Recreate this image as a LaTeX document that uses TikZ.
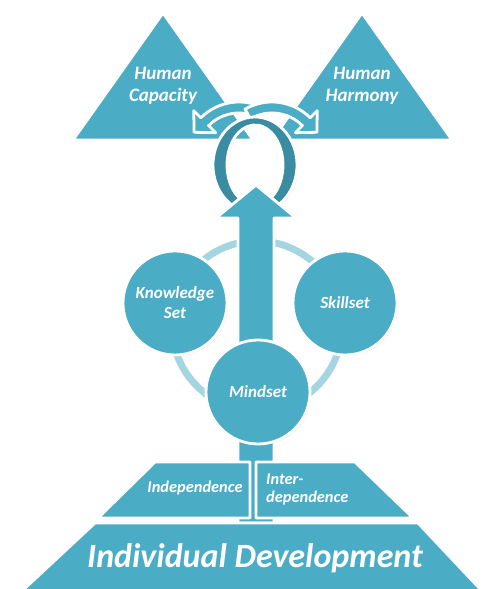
\documentclass[tikz,border=0pt]{standalone}
\usepackage{fontspec}
\setmainfont{Carlito}
\usetikzlibrary{shadows,calc}
\definecolor{aqua}{HTML}{4BACC6}
\definecolor{aquadark}{HTML}{3A8CA3}
\definecolor{aqualight}{HTML}{A5D5E1}
\begin{document}
\begin{tikzpicture}[x=1pt,y=1pt,
  blok/.style={fill=aqua,draw=white,line width=2.8pt,line join=round,
    drop shadow={shadow xshift=1.2pt,shadow yshift=-1.2pt,opacity=.3}},
  lbl/.style={text=white,align=center,inner sep=0pt},
  disc/.style={blok,circle,minimum size=104pt,inner sep=0pt,text=white,align=center}]
\useasboundingbox (0,0) rectangle (485,589);
% triangles
\path[blok] (73,449) -- (163,576) -- (253,449) -- cycle;
\path[blok] (272,449) -- (362,576) -- (452,449) -- cycle;
\node[lbl,font=\fontsize{19}{22}\selectfont\bfseries\itshape] (cap) at (163,503) {Human\\Capacity};
\node[lbl,font=\fontsize{19}{22}\selectfont\bfseries\itshape] (harm) at (362,503) {Human\\Harmony};
% curved arrows
\coordinate (cl) at (239,433);
\coordinate (cr) at (272,433);
\path[blok] ($(cl)+(60:43)$) -- ($(cl)+(60:54)$) arc[start angle=60,end angle=135,radius=54]
  -- ($(cl)+(135:64)$) -- ($(cl)+(135:48.5)+(225:15)$) -- ($(cl)+(135:33)$)
  -- ($(cl)+(135:43)$) arc[start angle=135,end angle=60,radius=43] -- cycle;
\path[blok] ($(cr)+(120:43)$) -- ($(cr)+(120:54)$) arc[start angle=120,end angle=45,radius=54]
  -- ($(cr)+(45:64)$) -- ($(cr)+(45:48.5)+(-45:15)$) -- ($(cr)+(45:33)$)
  -- ($(cr)+(45:43)$) arc[start angle=45,end angle=120,radius=43] -- cycle;
% loop
\coordinate (lp) at (255,424);
\path[blok,fill=aquadark] ($(lp)+(-60:42 and 48)$) arc[start angle=-60,end angle=240,x radius=42,y radius=48]
  -- ($(lp)+(240:28 and 40)$) arc[start angle=240,end angle=-60,x radius=28,y radius=40] -- cycle;
% ring
\coordinate (rg) at (257,263);
\draw[white,line width=11pt] (rg) circle[radius=85];
\draw[aqualight,line width=7pt] (rg) circle[radius=85];
% up arrow
\path[blok] (238,66) -- (238,371) -- (216,371) -- (256,404) -- (296,371) -- (274,371) -- (274,66) -- cycle;
% circles
\node[disc,font=\fontsize{17}{20}\selectfont\bfseries\itshape] (know) at (175,286) {Knowledge\\Set};
\node[disc,font=\fontsize{17}{20}\selectfont\bfseries\itshape] (skill) at (345,286) {Skillset};
\node[disc,font=\fontsize{17}{20}\selectfont\bfseries\itshape] (mind) at (258,197) {Mindset};
% pyramid
\path[blok] (98,71) -- (250,71) -- (250,127) -- (155,127) -- cycle;
\path[blok] (256,71) -- (413,71) -- (355,127) -- (256,127) -- cycle;
\path[blok] (22,-2) -- (95,66) -- (418,66) -- (482,-2) -- cycle;
\node[lbl,font=\fontsize{16.4}{18}\selectfont\bfseries\itshape] (indep) at (195,101) {Independence};
\node[lbl,anchor=west,align=left,font=\fontsize{16.4}{18}\selectfont\bfseries\itshape] (inter) at (266,100) {Inter-\\dependence};
\node[lbl,font=\fontsize{34}{38}\selectfont\bfseries\itshape] (dev) at (255,31) {Individual Development};
\end{tikzpicture}
\end{document}
